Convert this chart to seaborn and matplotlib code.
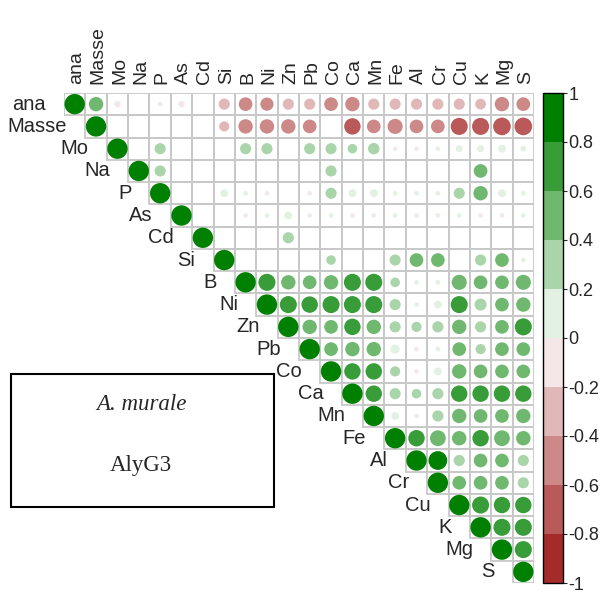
import numpy as np
import pandas as pd
import seaborn as sns
import matplotlib as mpl
import matplotlib.pyplot as plt
from matplotlib.colors import LinearSegmentedColormap, ListedColormap, BoundaryNorm
from matplotlib.patches import Rectangle

sns.set_theme(style="white")
plt.rcParams['font.family'] = ['Liberation Sans', 'DejaVu Sans']

# Variables (order of the correlation matrix)
variables = ['ana', 'Masse', 'Mo', 'Na', 'P', 'As', 'Cd', 'Si', 'B', 'Ni', 'Zn',
             'Pb', 'Co', 'Ca', 'Mn', 'Fe', 'Al', 'Cr', 'Cu', 'K', 'Mg', 'S']

# Upper triangle of the correlation matrix, each row starts at the diagonal
upper_rows = [
    [1, 0.5, -0.1, 0, -0.05, -0.1, 0, -0.3, -0.45, -0.42, -0.3, -0.3, -0.45, -0.5, -0.3, -0.3, -0.3, -0.3, -0.3, -0.28, -0.5, -0.45],
    [1, 0, 0, 0, 0, 0, -0.25, -0.5, -0.5, -0.5, -0.45, 0, -0.65, -0.45, -0.55, -0.45, -0.45, -0.7, -0.7, -0.75, -0.75],
    [1, 0, 0.3, 0, 0, 0, 0.3, 0.3, 0, 0.3, 0.3, 0.22, 0.32, -0.05, -0.05, 0.05, 0.12, 0.12, 0.15, 0.08],
    [1, 0.3, 0, 0, 0, 0, 0, 0, 0, 0.3, 0, 0, 0, 0, 0, 0, 0.45, 0, 0],
    [1, 0, 0, 0.15, 0.05, -0.05, 0, -0.05, 0.3, 0.15, 0.15, 0.05, 0.05, 0.05, 0.3, 0.5, 0.15, 0.05],
    [1, 0, 0, -0.05, 0.05, 0.15, -0.05, 0.05, -0.05, -0.05, 0.05, 0.05, 0.05, 0.05, -0.05, -0.05, 0.05],
    [1, 0, 0, 0, 0.3, 0, 0, 0, 0, 0, 0, 0, 0, 0, 0, 0],
    [1, 0, 0, 0, 0, 0.22, 0, 0, 0.3, 0.45, 0.45, 0, 0.3, 0.45, 0.05],
    [1, 0.7, 0.5, 0.45, 0.5, 0.7, 0.7, 0.22, 0.05, 0.05, 0.55, 0.45, 0.45, 0.55],
    [1, 0.7, 0.65, 0.7, 0.7, 0.7, 0.3, 0.05, 0.15, 0.7, 0.35, 0.45, 0.5],
    [1, 0.5, 0.45, 0.65, 0.5, 0.3, 0.25, 0.3, 0.5, 0.3, 0.45, 0.7],
    [1, 0.45, 0.5, 0.5, 0.2, -0.05, 0.05, 0.45, 0.25, 0.45, 0.45],
    [1, 0.65, 0.65, 0.25, -0.05, 0.15, 0.5, 0.45, 0.45, 0.45],
    [1, 0.65, 0.3, 0.22, 0.3, 0.65, 0.65, 0.65, 0.65],
    [1, 0.15, 0.05, 0.3, 0.5, 0.45, 0.45, 0.5],
    [1, 0.65, 0.6, 0.5, 0.65, 0.6, 0.5],
    [1, 0.85, 0.3, 0.45, 0.45, 0.3],
    [1, 0.45, 0.45, 0.45, 0.3],
    [1, 0.7, 0.65, 0.65],
    [1, 0.7, 0.7],
    [1, 0.7],
    [1],
]

cbar_ticks = [1, 0.8, 0.6, 0.4, 0.2, 0, -0.2, -0.4, -0.6, -0.8, -1]
cbar_labels = ['1', '0.8', '0.6', '0.4', '0.2', '0', '-0.2', '-0.4', '-0.6', '-0.8', '-1']

species = 'A. murale'
sample = 'AlyG3'

# long table
records = []
for i, row in enumerate(upper_rows):
    for k, r in enumerate(row):
        records.append((i, i + k, r))
df = pd.DataFrame(records, columns=['row', 'col', 'r'])
df['absr'] = df['r'].abs()

# 10 discrete colours brown -> white -> green
ramp = LinearSegmentedColormap.from_list('bwg', ['#A52A2A', '#FFFFFF', '#008000'])
level_colors = [ramp(k / 9) for k in range(10)]
bounds = np.linspace(-1, 1, 11)
df['level'] = np.clip(np.digitize(df['r'], bounds[1:-1]), 0, 9)
pts = df[df['r'] != 0]

n = len(variables)
fig = plt.figure(figsize=(6.13, 5.94), dpi=100)
ax = fig.add_axes([64 / 613, 11 / 594, 470 / 613, 490 / 594])

# grid of the upper triangle
for i in range(n):
    for j in range(i, n):
        ax.add_patch(Rectangle((j - 0.5, i - 0.5), 1, 1, fill=False,
                               edgecolor='#c8c8c8', lw=1.3, zorder=1))

sns.scatterplot(data=pts, x='col', y='row', hue='level',
                palette=dict(enumerate(level_colors)),
                size='absr', sizes=(0, 215), size_norm=(0, 1),
                linewidth=0, legend=False, ax=ax, zorder=3)

ax.set_xlim(-0.5, n - 0.5)
ax.set_ylim(n - 0.5, -0.5)
ax.axis('off')

# labels
for i, name in enumerate(variables):
    ax.text(i - 0.5 - 0.85, i, name, ha='right', va='center', fontsize=14.5)
    ax.text(i + 0.1, -0.5 - 0.4, name, rotation=90, ha='center', va='bottom', fontsize=14)

# colour bar
cax = fig.add_axes([543 / 613, 11 / 594, 20 / 613, 490 / 594])
sm = mpl.cm.ScalarMappable(norm=BoundaryNorm(bounds, 10), cmap=ListedColormap(level_colors))
cb = fig.colorbar(sm, cax=cax, ticks=cbar_ticks)
cb.ax.set_yticklabels(cbar_labels)
cb.outline.set_edgecolor('black')
cb.outline.set_linewidth(1)
cax.tick_params(right=True, length=3, width=0.8, labelsize=13, pad=1)

# annotation box
fig.add_artist(Rectangle((11 / 613, 87 / 594), 263 / 613, 133 / 594,
                         transform=fig.transFigure, fill=False, lw=1.5, ec='black'))
fig.text(141 / 613, 1 - 404 / 594, species, style='italic', family='Liberation Serif',
         size=16.5, ha='center', va='center')
fig.text(141 / 613, 1 - 465 / 594, sample, family='Liberation Serif',
         size=16.5, ha='center', va='center')

fig.savefig('out.png', dpi=100)
